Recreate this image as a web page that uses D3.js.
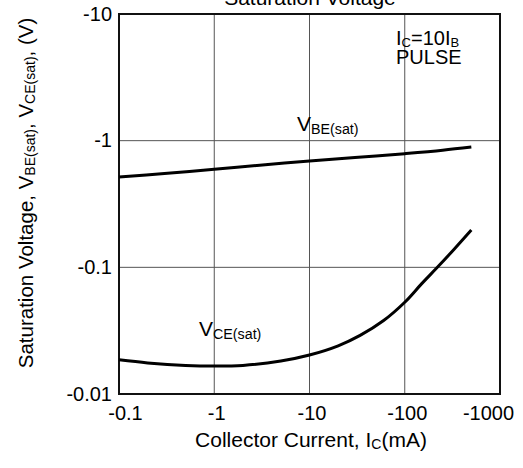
<!DOCTYPE html>
<html>
<head>
<meta charset="utf-8">
<script src="https://cdn.jsdelivr.net/npm/d3@7.9.0/dist/d3.min.js"></script>
<style>
  body { margin: 0; background: #fff; }
  text { font-family: "Liberation Sans", Arial, sans-serif; fill: #000; }
</style>
</head>
<body>
<svg id="chart" width="523" height="468"></svg>
<script>
// collector current (mA) and saturation voltages (V)
const icVbe = [-0.1, -0.3, -1, -3, -10, -30, -100, -250, -500];
const vbeSat = [-0.516, -0.55, -0.594, -0.64, -0.69, -0.735, -0.79, -0.84, -0.89];
const icVce = [-0.1, -0.2, -0.5, -1, -2, -5, -10, -20, -34, -60, -100, -150, -220, -330, -500];
const vceSat = [-0.0186, -0.0176, -0.0168, -0.0166, -0.0168, -0.0182, -0.0203, -0.024, -0.029, -0.038, -0.053, -0.074, -0.1, -0.139, -0.197];
const xTicks = [-0.1, -1, -10, -100, -1000];
const yTicks = [-0.01, -0.1, -1, -10];

const svg = d3.select('#chart');
const margin = {left: 119, right: 23, top: 14, bottom: 74};
const w = 523 - margin.left - margin.right;
const h = 468 - margin.top - margin.bottom;

const x = d3.scaleLog().domain([-0.1, -1000]).range([margin.left, margin.left + w]);
const y = d3.scaleLog().domain([-0.01, -10]).range([margin.top + h, margin.top]);

// grid
svg.append('g').selectAll('line').data(xTicks).join('line')
  .attr('x1', d => x(d)).attr('x2', d => x(d))
  .attr('y1', margin.top).attr('y2', margin.top + h)
  .attr('stroke', '#555').attr('stroke-width', 1);
svg.append('g').selectAll('line').data(yTicks).join('line')
  .attr('x1', margin.left).attr('x2', margin.left + w)
  .attr('y1', d => y(d)).attr('y2', d => y(d))
  .attr('stroke', '#555').attr('stroke-width', 1);

// tick labels from d3 axes, no tick lines
const xAxis = svg.append('g')
  .attr('transform', `translate(0,${margin.top + h})`)
  .call(d3.axisBottom(x).tickValues(xTicks).tickFormat(d => String(d)).tickSize(0).tickPadding(12));
const yAxis = svg.append('g')
  .attr('transform', `translate(${margin.left},0)`)
  .call(d3.axisLeft(y).tickValues(yTicks).tickFormat(d => String(d)).tickSize(0).tickPadding(7));
[xAxis, yAxis].forEach(g => {
  g.select('.domain').remove();
  g.selectAll('text').attr('font-size', 20).attr('font-family', '"Liberation Sans", Arial, sans-serif').attr('fill', '#000');
});
// end labels sit inside the frame ends
xAxis.selectAll('.tick text').attr('x', (d, i) => i === 0 ? 6 : (i === xTicks.length - 1 ? -12 : 2));
yAxis.selectAll('.tick text').attr('dy', '0.3em');

// frame
svg.append('rect')
  .attr('x', margin.left).attr('y', margin.top)
  .attr('width', w).attr('height', h)
  .attr('fill', 'none').attr('stroke', '#111').attr('stroke-width', 2);

// curves
const line = d3.line().curve(d3.curveCatmullRom.alpha(0.5));
svg.append('path')
  .attr('d', line(icVbe.map((d, i) => [x(d), y(vbeSat[i])])))
  .attr('fill', 'none').attr('stroke', '#000').attr('stroke-width', 3);
svg.append('path')
  .attr('d', line(icVce.map((d, i) => [x(d), y(vceSat[i])])))
  .attr('fill', 'none').attr('stroke', '#000').attr('stroke-width', 3);

// annotations
function subLabel(px, py, main, sub, fs) {
  const t = svg.append('text').attr('x', px).attr('y', py).attr('font-size', fs);
  t.append('tspan').text(main);
  t.append('tspan').attr('font-size', fs * 0.68).attr('dy', 3).text(sub);
  return t;
}
subLabel(297, 131, 'V', 'BE(sat)', 21);
subLabel(199, 336, 'V', 'CE(sat)', 21);

const ic = svg.append('text').attr('x', 396).attr('y', 45).attr('font-size', 20);
ic.append('tspan').text('I');
ic.append('tspan').attr('font-size', 13).attr('dy', 2).text('C');
ic.append('tspan').attr('dy', -2).text('=10I');
ic.append('tspan').attr('font-size', 13).attr('dy', 2).text('B');
svg.append('text').attr('x', 396).attr('y', 64).attr('font-size', 20).text('PULSE');

// title (clipped at top)
svg.append('text').attr('x', 310).attr('y', 5).attr('text-anchor', 'middle')
  .attr('font-size', 21).text('Saturation Voltage');

// x axis title
const xt = svg.append('text').attr('x', 311).attr('y', 447).attr('text-anchor', 'middle').attr('font-size', 21);
xt.append('tspan').text('Collector Current, ');
xt.append('tspan').text('I');
xt.append('tspan').attr('font-size', 14).attr('dy', 2).text('C');
xt.append('tspan').attr('dy', -2).text('(mA)');

// y axis title
const yt = svg.append('text').attr('transform', 'translate(33,193) rotate(-90)')
  .attr('text-anchor', 'middle').attr('font-size', 20.5);
yt.append('tspan').text('Saturation Voltage, V');
yt.append('tspan').attr('font-size', 14).attr('dy', 2).text('BE(sat)');
yt.append('tspan').attr('dy', -2).text(', V');
yt.append('tspan').attr('font-size', 14).attr('dy', 2).text('CE(sat)');
yt.append('tspan').attr('dy', -2).text(', (V)');
</script>
</body>
</html>
